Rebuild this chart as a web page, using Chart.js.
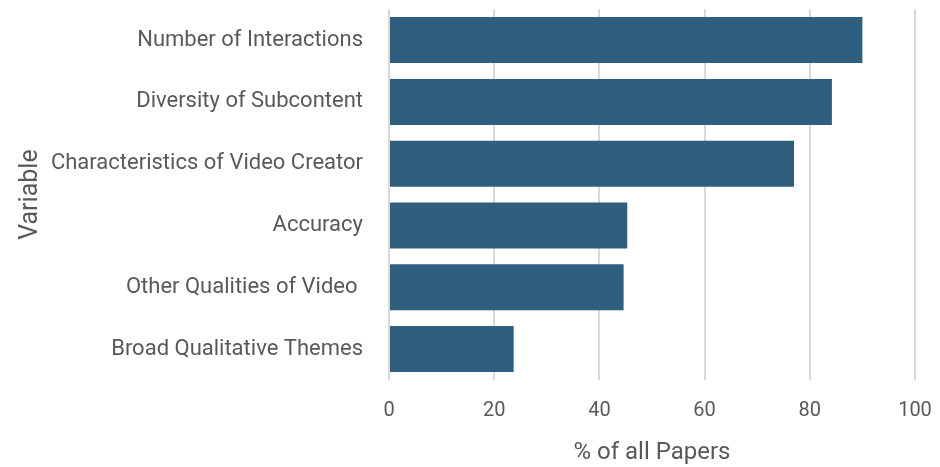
<!DOCTYPE html>
<html>
<head>
<meta charset="utf-8">
<script src="https://cdn.jsdelivr.net/npm/chart.js@4/dist/chart.umd.min.js"></script>
<style>
  html, body { margin: 0; padding: 0; background: #ffffff; }
  #wrap { width: 940px; height: 467px; }
</style>
</head>
<body>
<div id="wrap"><canvas id="chart" width="940" height="467"></canvas></div>
<script>
// Share of papers that report each variable
const categories = [
  'Number of Interactions',
  'Diversity of Subcontent',
  'Characteristics of Video Creator',
  'Accuracy',
  'Other Qualities of Video ',
  'Broad Qualitative Themes'
];
const percentOfPapers = [90.0, 84.2, 77.0, 45.3, 44.6, 23.7];
const xTicks = [0, 20, 40, 60, 80, 100];

const textColor = '#595959';
const fontFamily = 'Roboto, "Noto Sans", sans-serif';
const clear = 'rgba(0,0,0,0)';

new Chart(document.getElementById('chart'), {
  type: 'bar',
  data: {
    labels: categories,
    datasets: [{
      data: percentOfPapers,
      backgroundColor: '#2e5f7f',
      borderWidth: 0,
      categoryPercentage: 1.0,
      barPercentage: 0.745
    }]
  },
  options: {
    indexAxis: 'y',
    responsive: false,
    animation: false,
    layout: { padding: { top: 9, right: 25, bottom: 0, left: 0 } },
    plugins: { legend: { display: false }, tooltip: { enabled: false } },
    scales: {
      x: {
        min: 0,
        max: 100,
        afterBuildTicks: (scale) => { scale.ticks = xTicks.map(v => ({ value: v })); },
        afterFit: (scale) => { scale.height = 87; },
        // invisible tick marks keep the labels clear of the plot
        grid: { color: '#d9d9d9', lineWidth: 2, drawTicks: true, tickLength: 19, tickColor: clear },
        border: { display: false },
        ticks: { color: textColor, font: { family: fontFamily, size: 20 }, padding: 0 },
        title: {
          display: true,
          text: '% of all Papers',
          color: textColor,
          font: { family: fontFamily, size: 24 },
          padding: { top: 8, bottom: 0 }
        }
      },
      y: {
        afterFit: (scale) => { scale.width = 389; },
        grid: { display: true, drawOnChartArea: false, drawTicks: true, tickLength: 30, color: clear, tickColor: clear },
        border: { display: false },
        ticks: { color: textColor, font: { family: fontFamily, size: 22 }, padding: -4 },
        title: {
          display: true,
          text: 'Variable',
          color: textColor,
          font: { family: fontFamily, size: 25 },
          padding: { top: 16, bottom: 0 }
        }
      }
    }
  }
});
</script>
</body>
</html>
